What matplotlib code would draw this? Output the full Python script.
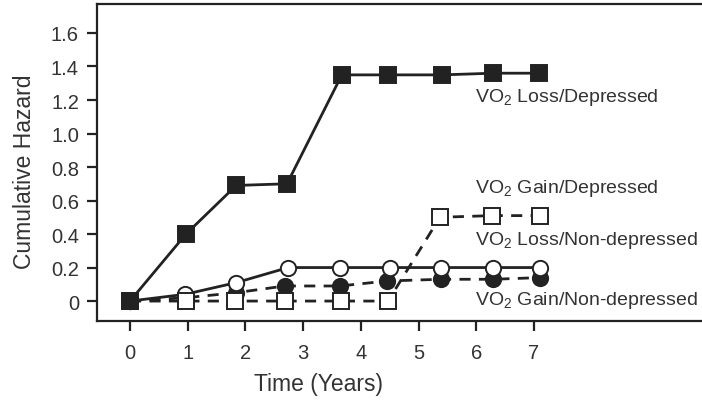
import matplotlib
matplotlib.use("Agg")
import matplotlib.pyplot as plt

plt.rcParams['font.family'] = ['Liberation Sans', 'DejaVu Sans']

# Data
t_loss_dep = [0, 0.97, 1.84, 2.72, 3.67, 4.47, 5.41, 6.29, 7.09]
h_loss_dep = [0, 0.40, 0.69, 0.70, 1.35, 1.35, 1.35, 1.36, 1.36]

t_gain_dep = [0, 0.97, 1.82, 2.68, 3.66, 4.47, 5.37, 6.27, 7.10]
h_gain_dep = [0, 0.0, 0.0, 0.0, 0.0, 0.0, 0.50, 0.51, 0.51]

t_loss_nondep = [0, 0.95, 1.84, 2.74, 3.64, 4.50, 5.39, 6.29, 7.10]
h_loss_nondep = [0, 0.04, 0.11, 0.20, 0.20, 0.20, 0.20, 0.20, 0.20]

t_gain_nondep = [0, 0.97, 1.84, 2.68, 3.64, 4.46, 5.39, 6.29, 7.10]
h_gain_nondep = [0, 0.02, 0.05, 0.09, 0.09, 0.12, 0.13, 0.13, 0.14]

x_ticks = [0, 1, 2, 3, 4, 5, 6, 7]
y_ticks = [0, 0.2, 0.4, 0.6, 0.8, 1.0, 1.2, 1.4, 1.6]
y_ticklabels = ["0", "0.2", "0.4", "0.6", "0.8", "1.0", "1.2", "1.4", "1.6"]

labels = ["VO$_\\mathregular{2}$ Loss/Depressed",
          "VO$_\\mathregular{2}$ Gain/Depressed",
          "VO$_\\mathregular{2}$ Loss/Non-depressed",
          "VO$_\\mathregular{2}$ Gain/Non-depressed"]
label_y = [1.22, 0.68, 0.37, 0.01]

W, H = 702, 402
fig = plt.figure(figsize=(W / 100, H / 100), dpi=100)
ax = fig.add_axes([97 / W, 80 / H, (W - 97) / W, 317 / H])

ink = "#222222"
txt = "#333333"
ms = 11
lw = 2.0
dash = (0, (4, 3))

ax.plot(t_gain_nondep, h_gain_nondep, linestyle=dash, color=ink, lw=lw,
        marker='o', ms=ms, mfc=ink, mec=ink, mew=1.4, zorder=2)
ax.plot(t_loss_nondep, h_loss_nondep, linestyle='-', color=ink, lw=lw,
        marker='o', ms=ms, mfc='white', mec=ink, mew=1.4, zorder=3)
ax.plot(t_gain_dep, h_gain_dep, linestyle=dash, color=ink, lw=lw,
        marker='s', ms=ms, mfc='white', mec=ink, mew=1.4, zorder=4)
ax.plot(t_loss_dep, h_loss_dep, linestyle='-', color=ink, lw=lw,
        marker='s', ms=ms, mfc=ink, mec=ink, mew=1.4, zorder=5)

for lab, yy in zip(labels, label_y):
    ax.text(5.98, yy, lab, fontsize=14, color=txt, va='center', ha='left')

ax.set_xlim(-0.572, 9.91)
ax.set_ylim(-0.119, 1.773)
ax.set_xticks(x_ticks)
ax.set_xticklabels([str(v) for v in x_ticks])
ax.set_yticks(y_ticks)
ax.set_yticklabels(y_ticklabels)
ax.tick_params(axis='both', labelsize=14.5, colors=ink, labelcolor=txt,
               width=1.6, length=7, direction='out')
ax.tick_params(axis='x', pad=9)
ax.tick_params(axis='y', pad=6)
ax.spines['right'].set_visible(False)
for s in ['left', 'bottom', 'top']:
    ax.spines[s].set_linewidth(1.6)
    ax.spines[s].set_color(ink)

ax.set_xlabel("Time (Years)", fontsize=16.5, color=txt)
ax.set_ylabel("Cumulative Hazard", fontsize=16.5, color=txt)
ax.xaxis.set_label_coords((318 - 97) / 605, (322 - 385) / 317)
ax.yaxis.set_label_coords((25 - 97) / 605, (322 - 172) / 317)
ax.xaxis.label.set_va('center')
ax.yaxis.label.set_va('center')

fig.savefig("out.png", dpi=100)
